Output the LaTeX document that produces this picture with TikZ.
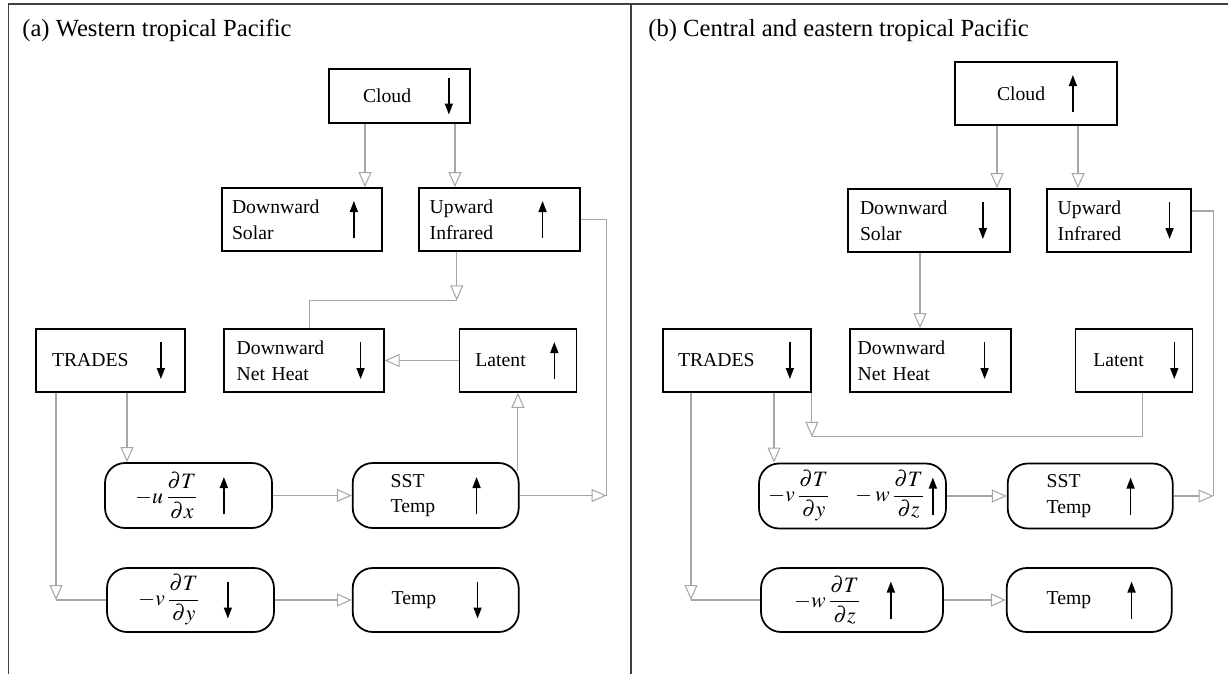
\documentclass[tikz,border=0pt]{standalone}
\usepackage{amsmath}
\usepackage{mathptmx}
\usepackage{fontspec}
\setmainfont{Liberation Serif}
\usetikzlibrary{arrows.meta, positioning}

\begin{document}
\begin{tikzpicture}[
    x=0.02cm, y=-0.02cm,
    box/.style={draw, line width=1pt, minimum height=1.26cm, inner sep=0pt, align=left, font={\fontsize{11.2}{14.7}\selectfont}},
    rbox/.style={box, rounded corners=0.4cm, minimum height=1.3cm},
    rmath/.style={rbox, font={\fontsize{12.5}{15}\selectfont}},
    paneltitle/.style={anchor=west, inner sep=0pt, font={\fontsize{14}{16}\selectfont}},
    link/.style={draw=gray!70, line width=0.6pt, -{Triangle[open, length=0.3cm, width=0.26cm]}},
    wire/.style={draw=gray!70, line width=0.6pt},
    trend/.style={line width=0.9pt, -{Triangle[length=0.22cm, width=0.16cm]}},
    panelline/.style={draw=black!75, line width=0.6pt}
]
\useasboundingbox (0,0) rectangle (1228,674);

% Frame
\draw[panelline] (1228,4) -- (8.5,4) -- (8.5,674);
\draw[panelline] (631,4) -- (631,674);

% ---------------- (a) ----------------
\node[paneltitle] (titleA) at (22,30) {(a) Western tropical Pacific};
\node[box, minimum width=2.82cm, minimum height=1.08cm, text width=1.46cm] (cloudA) at (399.5,96) {Cloud};

% Row 2
\node[box, minimum width=3.2cm, text width=2.8cm] (solarA) at (302,219.5) {Downward\\Solar};
\node[box, minimum width=3.22cm, text width=2.78cm, right=0.7cm of solarA] (upirA) {Upward\\Infrared};

% Row 3
\node[box, minimum width=2.98cm, text width=2.34cm] (tradesA) at (110.5,360.5) {TRADES};
\node[box, minimum width=3.2cm, text width=2.68cm, right=0.74cm of tradesA] (netheatA) {Downward\\Net Heat};
\node[box, minimum width=2.34cm, text width=1.7cm, right=1.48cm of netheatA] (latentA) {Latent};

% Row 4
\node[rmath, minimum width=3.34cm, text width=2.14cm] (uA) at (188.5,495.5) {$-u\,\dfrac{\partial T}{\partial x}$};
\node[rbox, minimum width=3.32cm, text width=1.8cm, right=1.58cm of uA] (sstA) {SST\\Temp};

% Row 5
\node[rmath, minimum width=3.34cm, minimum height=1.28cm, text width=2.1cm] (vA) at (190.5,600) {$-v\,\dfrac{\partial T}{\partial y}$};
\node[rbox, minimum width=3.32cm, minimum height=1.28cm, text width=1.76cm, right=1.54cm of vA] (tempA) {Temp};

% Trends
\draw[trend] ([xshift=-0.44cm]cloudA.east) ++(0,0.37cm) -- ++(0,-0.74cm);
\draw[trend] ([xshift=-0.58cm]solarA.east) ++(0,-0.37cm) -- ++(0,0.74cm);
\draw[trend] ([xshift=-0.76cm]upirA.east) ++(0,-0.37cm) -- ++(0,0.74cm);
\draw[trend] ([xshift=-0.5cm]tradesA.east) ++(0,0.37cm) -- ++(0,-0.74cm);
\draw[trend] ([xshift=-0.48cm]netheatA.east) ++(0,0.37cm) -- ++(0,-0.74cm);
\draw[trend] ([xshift=-0.46cm]latentA.east) ++(0,-0.37cm) -- ++(0,0.74cm);
\draw[trend] ([xshift=-0.98cm]uA.east) ++(0,-0.37cm) -- ++(0,0.74cm);
\draw[trend] ([xshift=-0.86cm]sstA.east) ++(0,-0.37cm) -- ++(0,0.74cm);
\draw[trend] ([xshift=-0.94cm]vA.east) ++(0,0.37cm) -- ++(0,-0.74cm);
\draw[trend] ([xshift=-0.84cm]tempA.east) ++(0,0.37cm) -- ++(0,-0.74cm);

% Arrows from cloud
\draw[link] ([xshift=-0.69cm]cloudA.south) coordinate (p) -- (p |- solarA.north);
\draw[link] ([xshift=1.11cm]cloudA.south) coordinate (p) -- (p |- upirA.north);

% Infrared to net heat
\coordinate (jA) at ([xshift=-0.85cm, yshift=-0.97cm]upirA.south);
\draw[link] (jA |- upirA.south) -- (jA);
\draw[wire] (jA) -| ([xshift=0.12cm]netheatA.north);
\draw[link] (latentA) -- (netheatA);

% SST feedbacks
\coordinate (sA) at ([yshift=-0.18cm]sstA.north);
\draw[link] (sA -| latentA.south) -- (latentA.south);
\coordinate (rA) at ([xshift=1.74cm]sstA.east);
\draw[wire] (upirA.east) -| (rA);
\draw[link] (sstA.east) -- (rA);

% Trades
\draw[link] ([xshift=0.33cm]tradesA.south) coordinate (p) -- (p |- uA.north);
\draw[link] ([xshift=-1.09cm]tradesA.south) coordinate (p) -- (p |- vA.west) coordinate (kA);
\draw[wire] (kA) -- (vA.west);
\draw[link] (uA) -- (sstA);
\draw[link] (vA) -- (tempA);

% ---------------- (b) ----------------
\node[paneltitle] (titleB) at (648,30) {(b) Central and eastern tropical Pacific};
\node[box, minimum width=3.24cm, text width=1.56cm] (cloudB) at (1036,93.5) {Cloud};

% Row 2
\node[box, minimum width=3.24cm, text width=2.76cm] (solarB) at (929,220.5) {Downward\\Solar};
\node[box, minimum width=2.88cm, text width=2.44cm, right=0.7cm of solarB] (upirB) {Upward\\Infrared};

% Row 3
\node[box, minimum width=2.96cm, text width=2.36cm] (tradesB) at (737,360.5) {TRADES};
\node[box, minimum width=3.22cm, text width=2.9cm, right=0.74cm of tradesB] (netheatB) {Downward\\Net Heat};
\node[box, minimum width=2.34cm, text width=1.62cm, right=1.26cm of netheatB] (latentB) {Latent};

% Row 4
\node[rmath, minimum width=3.74cm, text width=3.38cm] (vwB) at (852.5,496) {$-v\,\dfrac{\partial T}{\partial y}\quad -w\,\dfrac{\partial T}{\partial z}$};
\node[rbox, minimum width=3.3cm, text width=1.74cm, right=1.2cm of vwB] (sstB) {SST\\Temp};

% Row 5
\node[rmath, minimum width=3.64cm, minimum height=1.28cm, text width=2.32cm] (wB) at (852,600) {$-w\,\dfrac{\partial T}{\partial z}$};
\node[rbox, minimum width=3.3cm, minimum height=1.28cm, text width=1.7cm, right=1.24cm of wB] (tempB) {Temp};

% Trends
\draw[trend] ([xshift=-0.9cm]cloudB.east) ++(0,-0.37cm) -- ++(0,0.74cm);
\draw[trend] ([xshift=-0.56cm]solarB.east) ++(0,0.37cm) -- ++(0,-0.74cm);
\draw[trend] ([xshift=-0.44cm]upirB.east) ++(0,0.37cm) -- ++(0,-0.74cm);
\draw[trend] ([xshift=-0.44cm]tradesB.east) ++(0,0.37cm) -- ++(0,-0.74cm);
\draw[trend] ([xshift=-0.54cm]netheatB.east) ++(0,0.37cm) -- ++(0,-0.74cm);
\draw[trend] ([xshift=-0.38cm]latentB.east) ++(0,0.37cm) -- ++(0,-0.74cm);
\draw[trend] ([xshift=-0.28cm]vwB.east) ++(0,-0.37cm) -- ++(0,0.74cm);
\draw[trend] ([xshift=-0.86cm]sstB.east) ++(0,-0.37cm) -- ++(0,0.74cm);
\draw[trend] ([xshift=-1.06cm]wB.east) ++(0,-0.37cm) -- ++(0,0.74cm);
\draw[trend] ([xshift=-0.82cm]tempB.east) ++(0,-0.37cm) -- ++(0,0.74cm);

% Arrows from cloud
\draw[link] ([xshift=-0.78cm]cloudB.south) coordinate (p) -- (p |- solarB.north);
\draw[link] ([xshift=0.84cm]cloudB.south) coordinate (p) -- (p |- upirB.north);
\draw[link] ([xshift=-0.18cm]solarB.south) coordinate (p) -- (p |- netheatB.north);

% SST feedback
\coordinate (rB) at ([xshift=0.8cm]sstB.east);
\draw[wire] ([yshift=0.19cm]upirB.east) -| (rB);
\draw[link] (sstB.east) -- (rB);

% Trades to latent
\coordinate (jB) at ([yshift=-0.88cm]tradesB.south east);
\draw[link] (tradesB.south east) -- (jB);
\draw[wire] ([xshift=0.17cm]latentB.south) |- (jB);

% Trades to advection
\draw[link] ([xshift=0.74cm]tradesB.south) coordinate (p) -- (p |- vwB.north);
\draw[link] ([xshift=-0.92cm]tradesB.south) coordinate (p) -- (p |- wB.west) coordinate (kB);
\draw[wire] (kB) -- (wB.west);
\draw[link] (vwB) -- (sstB);
\draw[link] (wB) -- (tempB);

\end{tikzpicture}
\end{document}
